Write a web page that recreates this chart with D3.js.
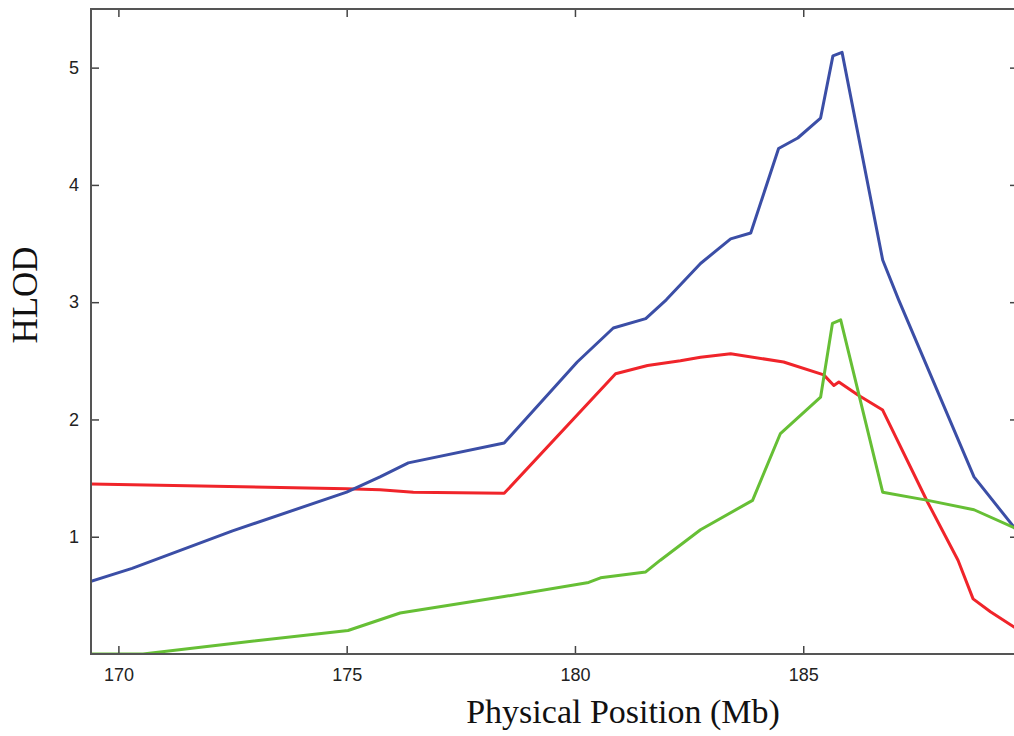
<!DOCTYPE html>
<html>
<head>
<meta charset="utf-8">
<script src="https://cdn.jsdelivr.net/npm/d3@7"></script>
<style>
  body { margin: 0; background: #fff; }
  .axis text { font-family: "Liberation Sans", Arial, sans-serif; font-size: 18px; fill: #222; }
  .axis path { display: none; }
  .axis line { stroke: #444; stroke-width: 1.5; }
</style>
</head>
<body>
<div id="chart-area"></div>
<script>
// values (Mb, HLOD)
var blueX = [169.40, 170.30, 172.50, 175.00, 175.73, 176.35, 178.45, 180.05, 180.84, 181.55, 182.00, 182.75, 183.41, 183.85, 184.46, 184.88, 185.38, 185.65, 185.85, 186.74, 187.09, 188.74, 189.66];
var blueY = [0.62, 0.73, 1.05, 1.38, 1.51, 1.63, 1.80, 2.49, 2.78, 2.86, 3.02, 3.33, 3.54, 3.59, 4.31, 4.40, 4.57, 5.10, 5.13, 3.36, 3.02, 1.51, 1.06];

var redX = [169.40, 175.00, 175.73, 176.46, 178.45, 180.89, 181.59, 182.31, 182.75, 183.41, 184.57, 185.45, 185.67, 185.78, 186.19, 186.74, 187.73, 188.39, 188.72, 189.10, 189.66];
var redY = [1.45, 1.41, 1.40, 1.38, 1.37, 2.39, 2.46, 2.50, 2.53, 2.56, 2.49, 2.38, 2.29, 2.32, 2.21, 2.08, 1.29, 0.80, 0.47, 0.36, 0.22];

var greenX = [169.40, 170.54, 172.50, 175.03, 176.17, 178.45, 180.30, 180.56, 181.55, 181.87, 182.75, 183.89, 184.50, 185.38, 185.64, 185.82, 186.74, 187.73, 188.74, 189.66];
var greenY = [0.00, 0.00, 0.09, 0.20, 0.35, 0.49, 0.61, 0.65, 0.70, 0.80, 1.06, 1.31, 1.88, 2.19, 2.82, 2.85, 1.38, 1.31, 1.23, 1.07];

var xTicks = [170, 175, 180, 185];
var yTicks = [1, 2, 3, 4, 5];

var margin = { left: 91, right: 0, top: 9, bottom: 82 };
var width = 925,
    height = 736 - margin.top - margin.bottom;

var svg = d3.select("#chart-area")
    .append("svg")
        .attr("width", 1014)
        .attr("height", 736);

var g = svg.append("g")
    .attr("transform", "translate(" + margin.left + ", " + margin.top + ")");

var x = d3.scaleLinear()
    .domain([169.40, 189.66])
    .range([0, width]);

var y = d3.scaleLinear()
    .domain([0, 5.5])
    .range([height, 0]);

g.append("clipPath")
    .attr("id", "clip")
  .append("rect")
    .attr("width", width)
    .attr("height", height);

function series(xs, ys) {
    return xs.map(function(d, i) { return { x: d, y: ys[i] }; });
}

var line = d3.line()
    .x(function(d) { return x(d.x); })
    .y(function(d) { return y(d.y); });

var lines = [
    { data: series(redX, redY), color: "#f0242a" },
    { data: series(blueX, blueY), color: "#3b4ea6" },
    { data: series(greenX, greenY), color: "#66bf35" }
];

lines.forEach(function(s) {
    g.append("path")
        .datum(s.data)
        .attr("clip-path", "url(#clip)")
        .attr("fill", "none")
        .attr("stroke", s.color)
        .attr("stroke-width", 3)
        .attr("stroke-linejoin", "round")
        .attr("d", line);
});

// Axes, ticks pointing inward
g.append("g")
    .attr("class", "x axis")
    .attr("transform", "translate(0," + height + ")")
    .call(d3.axisBottom(x).tickValues(xTicks).tickSize(-8).tickPadding(14).tickFormat(d3.format("d")));

g.append("g")
    .attr("class", "x axis")
    .call(d3.axisTop(x).tickValues(xTicks).tickSize(-8).tickFormat(""));

g.append("g")
    .attr("class", "y axis")
    .call(d3.axisLeft(y).tickValues(yTicks).tickSize(-8).tickPadding(12).tickFormat(d3.format("d")));

g.append("g")
    .attr("class", "y axis")
    .attr("transform", "translate(" + width + ",0)")
    .call(d3.axisRight(y).tickValues(yTicks).tickSize(-6).tickFormat(""));

// frame
g.append("rect")
    .attr("width", width)
    .attr("height", height)
    .attr("fill", "none")
    .attr("stroke", "#555")
    .attr("stroke-width", 2);

// X Label
svg.append("text")
    .attr("x", 623)
    .attr("y", 723)
    .attr("font-family", "'Liberation Serif', 'Times New Roman', serif")
    .attr("font-size", "34px")
    .attr("text-anchor", "middle")
    .attr("fill", "#111")
    .text("Physical Position (Mb)");

// Y Label
svg.append("text")
    .attr("transform", "translate(37,295) rotate(-90)")
    .attr("font-family", "'Liberation Serif', 'Times New Roman', serif")
    .attr("font-size", "35px")
    .attr("text-anchor", "middle")
    .attr("fill", "#111")
    .text("HLOD");
</script>
</body>
</html>
